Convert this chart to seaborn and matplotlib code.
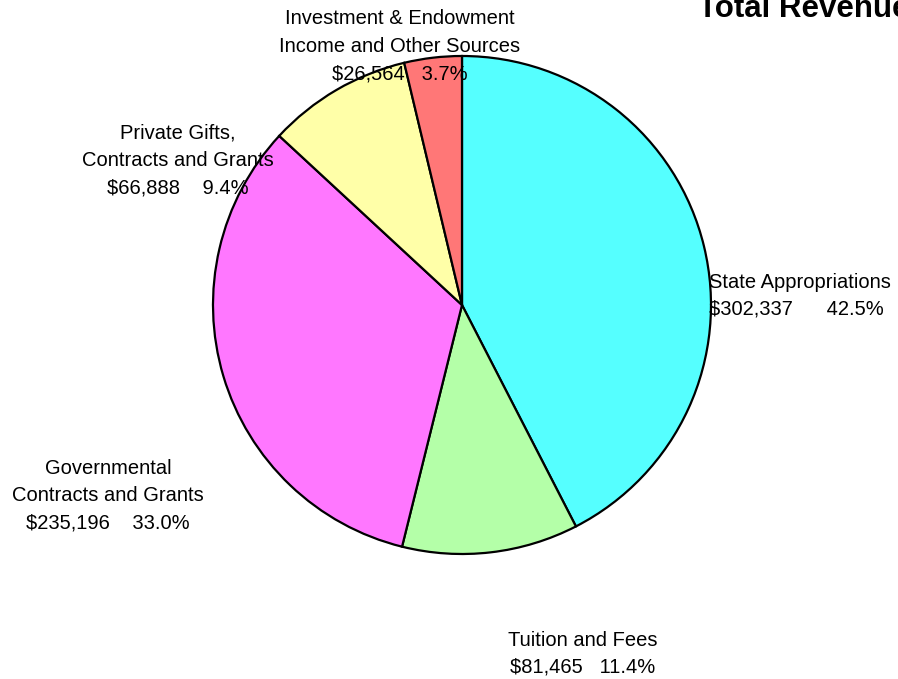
import matplotlib
matplotlib.use("Agg")
import matplotlib.pyplot as plt
import seaborn as sns

# data (clockwise from 12 o'clock)
categories = ["State Appropriations", "Tuition and Fees",
              "Governmental\nContracts and Grants",
              "Private Gifts,\nContracts and Grants",
              "Investment & Endowment\nIncome and Other Sources"]
amounts = [302337, 81465, 235196, 66888, 26564]
pct_labels = ["42.5%", "11.4%", "33.0%", "9.4%", "3.7%"]
colors = ["#55FFFF", "#B4FFA8", "#FF77FF", "#FFFFA8", "#FF7777"]

sns.set_theme(style="white")
plt.rcParams['font.family'] = ['Liberation Sans', 'DejaVu Sans']

fig = plt.figure(figsize=(8.98, 6.79), dpi=100)
ax = fig.add_axes([0, 0, 1, 1])

# pie drawn in a y-down pixel frame, so counterclock=True reads clockwise
ax.pie(amounts, colors=colors, startangle=-90, counterclock=True,
       center=(462, 305), radius=249, frame=True,
       wedgeprops=dict(edgecolor='black', linewidth=1.6))
ax.set_xlim(0, 898)
ax.set_ylim(679, 0)
ax.set_aspect('equal')
ax.axis('off')

# label layout (x, y of first line, alignment, gap between $ and %)
label_pos = [(709, 282, 'left', "      "),
             (583, 640, 'center', "   "),
             (108, 468, 'center', "    "),
             (178, 133, 'center', "    "),
             (400, 19, 'center', "   ")]
fs = 14.5
line_h = 27.3
for cat, amt, pct, (x, y, ha, gap) in zip(categories, amounts, pct_labels, label_pos):
    lines = cat.split("\n") + [f"${amt:,}" + gap + pct]
    for i, line in enumerate(lines):
        ax.text(x, y + i * line_h, line, ha=ha, va='center', fontsize=fs,
                color='black')

fig.text(698 / 898, 1 - 17 / 679, "Total Revenues", fontsize=22.5,
         fontweight='bold', ha='left', va='baseline', color='black')

fig.savefig("out.png", dpi=100)
